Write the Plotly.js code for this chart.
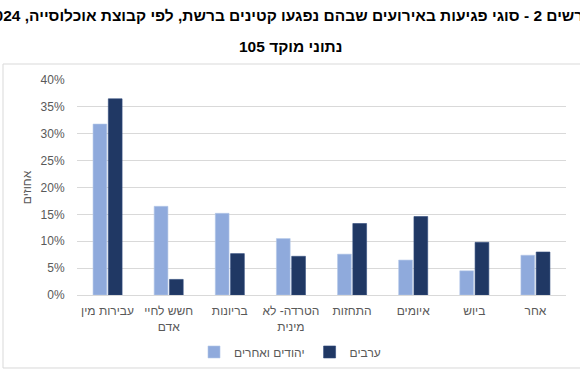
<!DOCTYPE html>
<html>
<head>
<meta charset="utf-8">
<script src="https://cdn.plot.ly/plotly-3.0.1.min.js"></script>
<style>html,body{margin:0;padding:0;background:#fff;}#chart{width:580px;height:386px;}</style>
</head>
<body>
<div id="chart"></div>
<script>
const categories = ["עבירות מין", "חשש לחיי<br>אדם", "בריונות", "הטרדה- לא<br>מינית", "התחזות", "איומים", "ביוש", "אחר"];
const jewsOthers = [31.8, 16.5, 15.2, 10.5, 7.6, 6.5, 4.5, 7.4];
const arabs = [36.5, 2.9, 7.7, 7.2, 13.3, 14.6, 9.8, 8.0];
const seriesNames = ["יהודים ואחרים", "ערבים"];
const yTicks = [0, 5, 10, 15, 20, 25, 30, 35, 40];
const titleLine1 = "תרשים 2 - סוגי פגיעות באירועים שבהם נפגעו קטינים ברשת, לפי קבוצת אוכלוסייה, 2024";
const titleLine2 = "נתוני מוקד 105";
const yTitle = "אחוזים";

const FONT = "Liberation Sans, Arial, sans-serif";
const traces = [
  {type: "bar", name: seriesNames[0], x: categories, y: jewsOthers,
   marker: {color: "#8FAADC", line: {color: "#B4C7E7", width: 0.6}}, hoverinfo: "skip"},
  {type: "bar", name: seriesNames[1], x: categories, y: arabs,
   marker: {color: "#203864", line: {color: "#2F4A7C", width: 0.6}}, hoverinfo: "skip"}
];
const layout = {
  width: 580, height: 386,
  margin: {l: 77, r: 14, t: 80, b: 91},
  paper_bgcolor: "#fff", plot_bgcolor: "#fff",
  font: {family: FONT, size: 12, color: "#595959"},
  barmode: "group", bargap: 0.5, bargroupgap: 0.1,
  showlegend: true,
  legend: {orientation: "h", x: 0.4356, xanchor: "center", y: -0.265, yanchor: "middle",
           font: {family: FONT, size: 12, color: "#595959"}, traceorder: "normal"},
  xaxis: {type: "category", tickfont: {family: FONT, size: 12, color: "#595959"},
          ticks: "outside", ticklen: 5, tickcolor: "rgba(0,0,0,0)",
          showline: false, showgrid: false, fixedrange: true},
  yaxis: {range: [0, 40], tickvals: yTicks, ticktext: yTicks.map(v => v + "%"),
          tickfont: {family: FONT, size: 12, color: "#595959"},
          ticks: "outside", ticklen: 9, tickcolor: "rgba(0,0,0,0)",
          gridcolor: "#D9D9D9", gridwidth: 1, zeroline: true, zerolinecolor: "#D9D9D9", zerolinewidth: 1,
          showline: false, fixedrange: true,
          title: {text: yTitle, font: {family: FONT, size: 12, color: "#595959"}, standoff: 6}},
  annotations: [
    {xref: "paper", yref: "paper", x: 0.4356, y: 1.2977, xanchor: "center", yanchor: "middle",
     showarrow: false, text: "<b>" + titleLine1 + "</b>", font: {family: FONT, size: 15.5, color: "#000"}},
    {xref: "paper", yref: "paper", x: 0.4356, y: 1.158, xanchor: "center", yanchor: "middle",
     showarrow: false, text: "<b>" + titleLine2 + "</b>", font: {family: FONT, size: 15.5, color: "#000"}}
  ],
  shapes: [
    {type: "rect", xref: "paper", yref: "paper", x0: -0.1513, x1: 1.06, y0: -0.3395, y1: 1.0744,
     line: {color: "#D9D9D9", width: 1}, fillcolor: "rgba(0,0,0,0)", layer: "below"}
  ]
};
Plotly.newPlot("chart", traces, layout, {displayModeBar: false, staticPlot: true});
</script>
</body>
</html>
